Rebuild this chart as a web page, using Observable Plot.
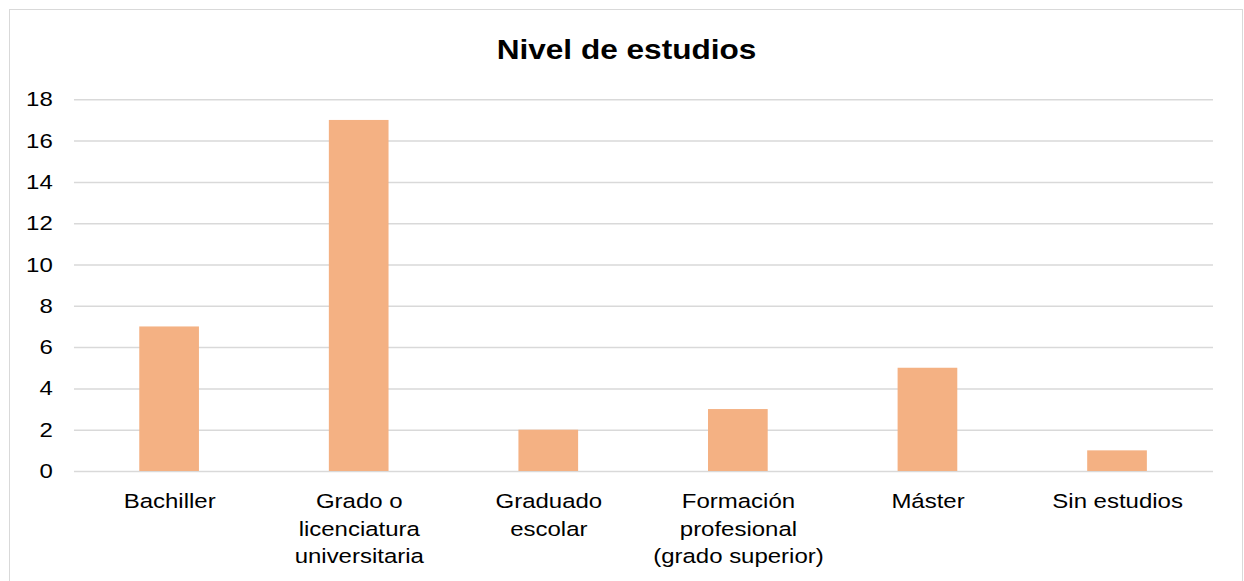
<!DOCTYPE html>
<html>
<head>
<meta charset="utf-8">
<script src="https://cdn.jsdelivr.net/npm/d3@7"></script>
<script src="https://cdn.jsdelivr.net/npm/@observablehq/plot@0.6"></script>
<style>
  html, body { margin: 0; padding: 0; background: #fff; }
  #wrap { position: relative; width: 1244px; height: 581px; overflow: hidden; background: #fff; }
  #box { position: absolute; left: 9px; top: 9px; width: 1234px; height: 620px; box-sizing: border-box; border: 1px solid #d9d9d9; z-index: 2; pointer-events: none; }
  #chart svg { position: absolute; left: 0; top: 0; z-index: 1; }
</style>
</head>
<body>
<div id="wrap"><div id="chart"></div><div id="box"></div></div>
<script>
const title = "Nivel de estudios";
const categories = ["Bachiller", "Grado o licenciatura universitaria", "Graduado escolar", "Formación profesional (grado superior)", "Máster", "Sin estudios"];
const tickLabels = ["Bachiller", "Grado o\nlicenciatura\nuniversitaria", "Graduado\nescolar", "Formación\nprofesional\n(grado superior)", "Máster", "Sin estudios"];
const values = [7, 17, 2, 3, 5, 1];
const yTicks = [0, 2, 4, 6, 8, 10, 12, 14, 16, 18];

const data = categories.map((c, i) => ({category: c, value: values[i]}));
const labelOf = new Map(categories.map((c, i) => [c, tickLabels[i]]));

// The reference is horizontally stretched; draw at a narrower internal width and stretch.
const W = 1244, H = 581, S = 1.1703;
const Wi = Math.round(W / S);

const svg = Plot.plot({
  width: Wi,
  height: H,
  marginTop: 99.3,
  marginBottom: 110,
  marginLeft: 63.2,
  marginRight: Wi - 1036.5,
  style: {fontFamily: "'Liberation Sans', Arial, sans-serif", color: "#000", background: "transparent"},
  x: {type: "band", domain: categories, paddingInner: 0.684, paddingOuter: 0.342, label: null, axis: null},
  y: {domain: [0, 18], label: null, axis: null},
  marks: [
    Plot.gridY(yTicks, {stroke: "#d9d9d9", strokeOpacity: 1, strokeWidth: 1.5}),
    Plot.barY(data, {x: "category", y: "value", fill: "#F4B183"}),
    Plot.axisY(yTicks, {tickSize: 0, tickPadding: 18.6, fontSize: 20.5, label: null, fill: "#000"}),
    Plot.axisX({tickSize: 0, tickPadding: 17.5, fontSize: 20.5, lineHeight: 1.34, label: null, fill: "#000",
      tickFormat: d => labelOf.get(d)}),
    Plot.text([title], {frameAnchor: "top", lineAnchor: "bottom", dy: -41, dx: -15,
      fontSize: 27, fontWeight: "bold", fill: "#000"})
  ]
});
svg.setAttribute("preserveAspectRatio", "none");
svg.style.width = W + "px";
svg.style.height = H + "px";
svg.style.maxWidth = "none";
svg.style.overflow = "visible";
document.getElementById("chart").appendChild(svg);
</script>
</body>
</html>
